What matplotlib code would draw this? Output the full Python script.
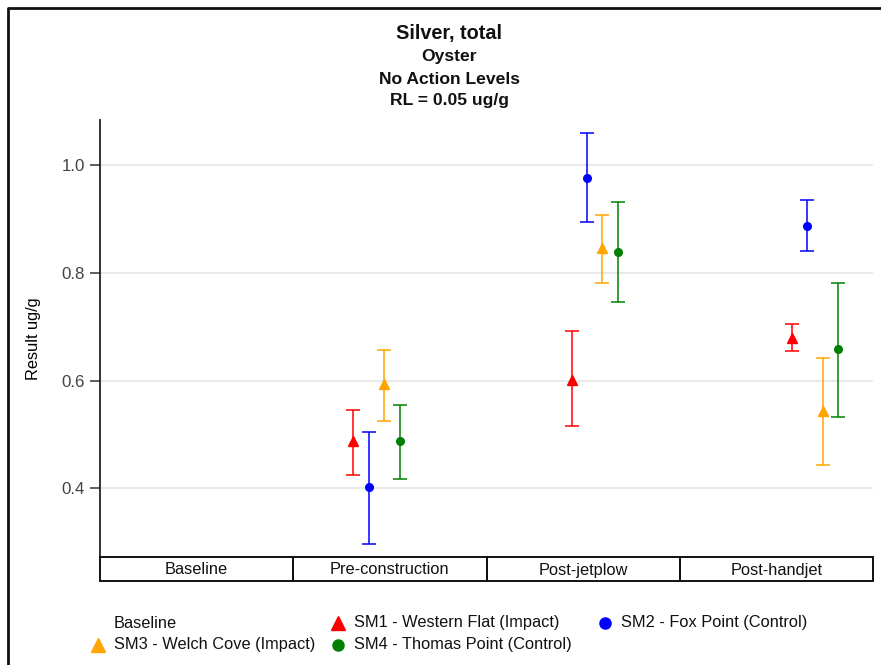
import numpy as np
import matplotlib
matplotlib.use("Agg")
import matplotlib.pyplot as plt
from matplotlib.lines import Line2D
from matplotlib.patches import Rectangle

plt.rcParams["font.family"] = ["Liberation Sans", "DejaVu Sans"]

# ---- data -------------------------------------------------------------
categories = ["Baseline", "Pre-construction", "Post-jetplow", "Post-handjet"]

# sampling position of each survey inside its period (fraction of the period)
period_center = [np.nan, 0.43, 0.56, 0.70]

series_names = [
    "SM1 - Western Flat (Impact)",
    "SM2 - Fox Point (Control)",
    "SM3 - Welch Cove (Impact)",
    "SM4 - Thomas Point (Control)",
]

sm1_result = [np.nan, 0.487, 0.601, 0.679]
sm1_low = [np.nan, 0.424, 0.515, 0.655]
sm1_high = [np.nan, 0.545, 0.692, 0.705]

sm2_result = [np.nan, 0.402, 0.976, 0.887]
sm2_low = [np.nan, 0.296, 0.894, 0.840]
sm2_high = [np.nan, 0.504, 1.059, 0.935]

sm3_result = [np.nan, 0.593, 0.846, 0.543]
sm3_low = [np.nan, 0.524, 0.781, 0.443]
sm3_high = [np.nan, 0.656, 0.907, 0.642]

sm4_result = [np.nan, 0.487, 0.838, 0.658]
sm4_low = [np.nan, 0.417, 0.746, 0.532]
sm4_high = [np.nan, 0.554, 0.931, 0.781]

y_ticks = [0.4, 0.6, 0.8, 1.0]

title_lines = ["Silver, total", "Oyster", "No Action Levels", "RL = 0.05 ug/g"]
y_label = "Result ug/g"

# ---- styles -----------------------------------------------------------
colors = ["#ff0000", "#0000ff", "#ffa500", "#008000"]
markers = ["^", "o", "^", "o"]
msizes = [7.5, 5.5, 7.5, 5.5]
dodge = 0.08
base_fs = 11.8

W, H = 881, 665
fig = plt.figure(figsize=(W / 100, H / 100), dpi=100)

def fx(px):
    return px / W

def fy(py):
    return 1 - py / H

ax_left, ax_right, ax_top, ax_bottom = 100, 873, 120, 557
ax = fig.add_axes([fx(ax_left), fy(ax_bottom), fx(ax_right - ax_left),
                   (ax_bottom - ax_top) / H])

ax.set_xlim(0, len(categories))
ax.set_ylim(0.2725, 1.0836)

ax.set_yticks(y_ticks)
ax.set_yticklabels([f"{t:.1f}" for t in y_ticks])
ax.set_xticks([])
ax.tick_params(axis="y", length=7, width=1.1, color="#333333",
               labelcolor="#444444", labelsize=12.2, pad=4)
ax.grid(axis="y", color="#e3e3e3", linewidth=1.1)
ax.set_axisbelow(True)

for side in ("top", "right", "bottom"):
    ax.spines[side].set_visible(False)
ax.spines["left"].set_color("#222222")
ax.spines["left"].set_linewidth(1.3)

ax.set_ylabel(y_label, fontsize=base_fs, labelpad=15)

results = [sm1_result, sm2_result, sm3_result, sm4_result]
lows = [sm1_low, sm2_low, sm3_low, sm4_low]
highs = [sm1_high, sm2_high, sm3_high, sm4_high]

for k in range(4):
    r = np.array(results[k])
    lo = np.array(lows[k])
    hi = np.array(highs[k])
    x = np.arange(len(categories)) + np.array(period_center) + dodge * (k - 1.5)
    ax.errorbar(x, r, yerr=[r - lo, hi - r], fmt="none", ecolor=colors[k],
                elinewidth=1.1, capsize=5.2, capthick=1.1, zorder=3)
    ax.plot(x, r, linestyle="none", marker=markers[k], color=colors[k],
            markersize=msizes[k], zorder=4)

# category table under the axis
cell_top, cell_bot = 557, 581
cell_w = (ax_right - ax_left) / len(categories)
for i, name in enumerate(categories):
    x0 = ax_left + i * cell_w
    fig.add_artist(Rectangle((fx(x0), fy(cell_bot)), fx(cell_w),
                             (cell_bot - cell_top) / H, fill=False,
                             edgecolor="#111111", linewidth=1.4,
                             transform=fig.transFigure))
    fig.text(fx(x0 + cell_w / 2), fy((cell_top + cell_bot) / 2 + 1), name,
             ha="center", va="center", fontsize=base_fs, color="#111111")

# titles
title_y = [34, 57, 79, 100]
title_sizes = [14.3, 12.6, 12.6, 12.6]
for line, yy, fs in zip(title_lines, title_y, title_sizes):
    fig.text(fx(449.5), fy(yy), line, ha="center", va="center",
             fontsize=fs, fontweight="bold", color="#111111")

# legend, laid out row by row
legend_items = [
    ("Baseline", None, None, 98, 623),
    (series_names[0], colors[0], markers[0], 338, 623),
    (series_names[1], colors[1], markers[1], 605, 623),
    (series_names[2], colors[2], markers[2], 98, 645),
    (series_names[3], colors[3], markers[3], 338, 645),
]
for label, col, mk, mx, my in legend_items:
    if mk is not None:
        size = 10 if mk == "^" else 8
        fig.add_artist(Line2D([fx(mx)], [fy(my)], marker=mk, color=col,
                              markersize=size, linestyle="none",
                              transform=fig.transFigure))
    fig.text(fx(mx + 16), fy(my), label, ha="left", va="center",
             fontsize=base_fs, color="#111111")

# outer frame
fig.add_artist(Line2D([fx(7.5), fx(7.5), fx(W + 5)],
                      [fy(H + 5), fy(7.5), fy(7.5)], color="#111111",
                      linewidth=2, transform=fig.transFigure))

fig.savefig("out.png", dpi=100)
